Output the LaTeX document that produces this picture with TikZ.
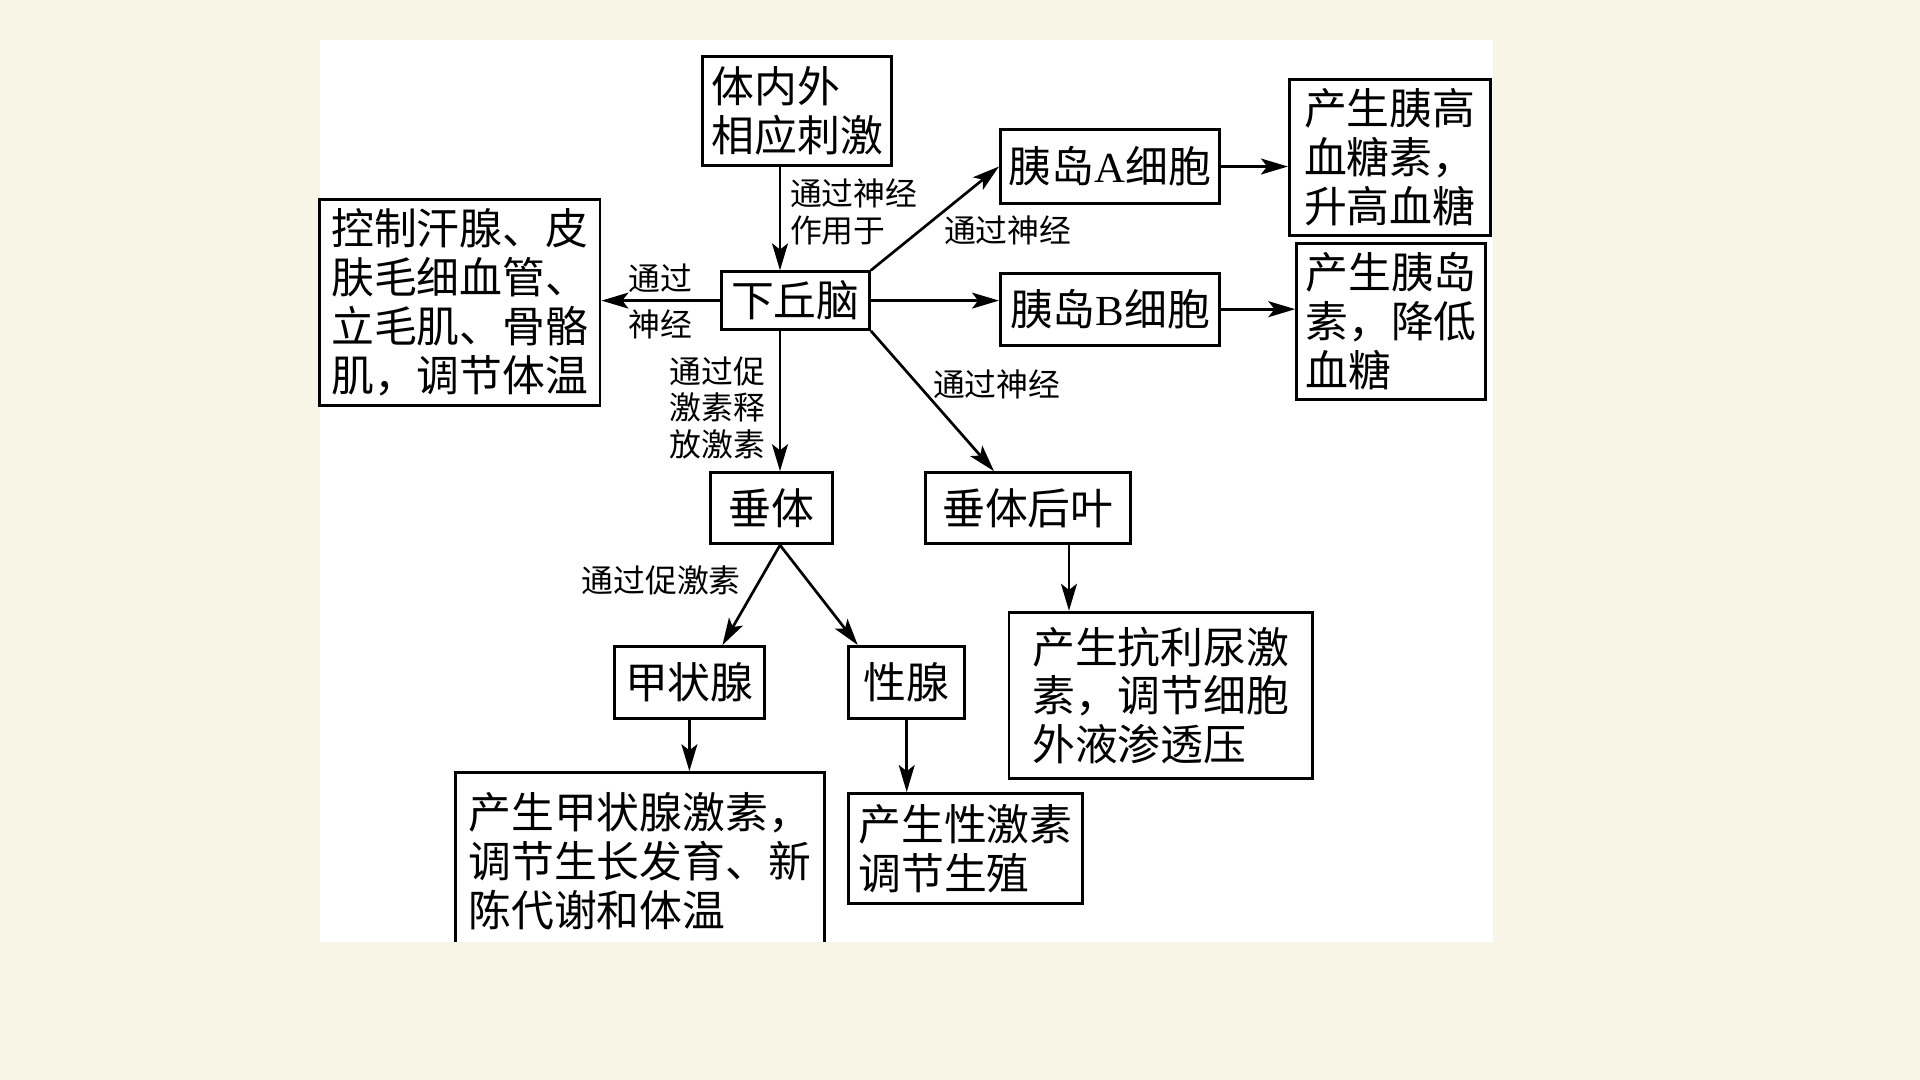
\documentclass[tikz,border=0pt]{standalone}
\usepackage{fontspec}
\setmainfont{Noto Sans CJK SC}
\newfontfamily\latin{Liberation Serif}
\usetikzlibrary{arrows.meta}
\definecolor{paper}{RGB}{248,245,231}
\tikzset{
  box/.style={draw, line width=2.4pt, inner sep=0pt, align=left, font=\fontsize{35}{40}\selectfont},
  tag/.style={inner sep=0pt, align=left, font=\fontsize{26}{30}\selectfont},
  arr/.style={line width=2.2pt, -{Stealth[length=22pt,width=13pt,inset=5pt]}}
}
\begin{document}
\begin{tikzpicture}[x=1pt, y=-1pt]

\newcommand\MX{637} %% x of the middle axis

\useasboundingbox (0,0) rectangle (1568,882);
\fill[paper] (0,0) rectangle (1568,882);
\fill[white] (261,33) rectangle (1219,769);

\coordinate (axis) at (\MX,0);

%% hypothalamus and its inputs
\node[box, minimum width=154pt, minimum height=89pt] (stim) at (651,90.5) {体内外\\相应刺激};
\node[box, minimum width=121pt, minimum height=47pt] (hyp) at (649.5,245.5) {下丘脑};
\node[box, minimum width=229pt, minimum height=168pt] (skin) at (375.5,247) {控制汗腺、皮\\肤毛细血管、\\立毛肌、骨骼\\肌，调节体温};

%% pancreas
\node[box, minimum width=179pt, minimum height=60pt] (cellA) at (906.5,136) {胰岛{\latin A}细胞};
\node[box, minimum width=179pt, minimum height=59pt] (cellB) at (906.5,252.5) {胰岛{\latin B}细胞};
\node[box, minimum width=164pt, minimum height=127pt] (gluc) at (1135,128.5) {产生胰高\\血糖素，\\升高血糖};
\node[box, minimum width=154pt, minimum height=127pt] (insu) at (1136,262.5) {产生胰岛\\素，降低\\血糖};

%% pituitary
\node[box, minimum width=100pt, minimum height=58pt] (pit) at (630,415) {垂体};
\node[box, minimum width=167pt, minimum height=58pt] (post) at (839.5,415) {垂体后叶};
\node[box, minimum width=122pt, minimum height=59pt] (thy) at (563,557.5) {甲状腺};
\node[box, minimum width=95pt, minimum height=59pt] (gon) at (740.5,557.5) {性腺};
\node[box, minimum width=248pt, minimum height=136pt] (adh) at (948,568) {产生抗利尿激\\素，调节细胞\\外液渗透压};
\node[box, minimum width=191pt, minimum height=90pt] (sexh) at (788.5,693) {产生性激素\\调节生殖};

\begin{scope}
\clip (261,33) rectangle (1219,769);
\node[box, minimum width=301pt, minimum height=144pt] (thyh) at (522.5,703) {产生甲状腺激素，\\调节生长发育、新\\陈代谢和体温};
\end{scope}

%% arrows
\draw[arr] (stim.south -| axis) -- (hyp.north -| axis);
\draw[arr] (hyp.west) -- (hyp.west -| skin.east);
\draw[arr] (hyp.north east) -- (cellA.west);
\draw[arr] (hyp.east) -- (hyp.east -| cellB.west);
\draw[arr] (hyp.south east) -- ([xshift=57pt]post.north west);
\draw[arr] (hyp.south -| axis) -- (pit.north -| axis);
\draw[arr] (cellA.east) -- (gluc.west |- cellA.east);
\draw[arr] (cellB.east) -- (insu.west |- cellB.east);
\draw[arr] (pit.south -| axis) -- ([xshift=27pt]thy.north);
\draw[arr] (pit.south -| axis) -- ([xshift=-40pt]gon.north);
\draw[arr] ([xshift=33.5pt]post.south) -- ([xshift=33.5pt]post.south |- adh.north);
\draw[arr] (thy.south) -- (thy.south |- thyh.north);
\draw[arr] (gon.south) -- (gon.south |- sexh.north);

%% labels
\node[tag, anchor=west] (nerveIn) at (645,173) {通过神经\\作用于};
\node[tag] (nerveUp) at (539,227) {通过};
\node[tag] (nerveDn) at (539,265) {神经};
\node[tag] (nerveA) at (823,188) {通过神经};
\node[tag] (releasing) at (586,333) {通过促\\激素释\\放激素};
\node[tag] (nervePost) at (814,314) {通过神经};
\node[tag] (tropic) at (540,474) {通过促激素};

\end{tikzpicture}
\end{document}
